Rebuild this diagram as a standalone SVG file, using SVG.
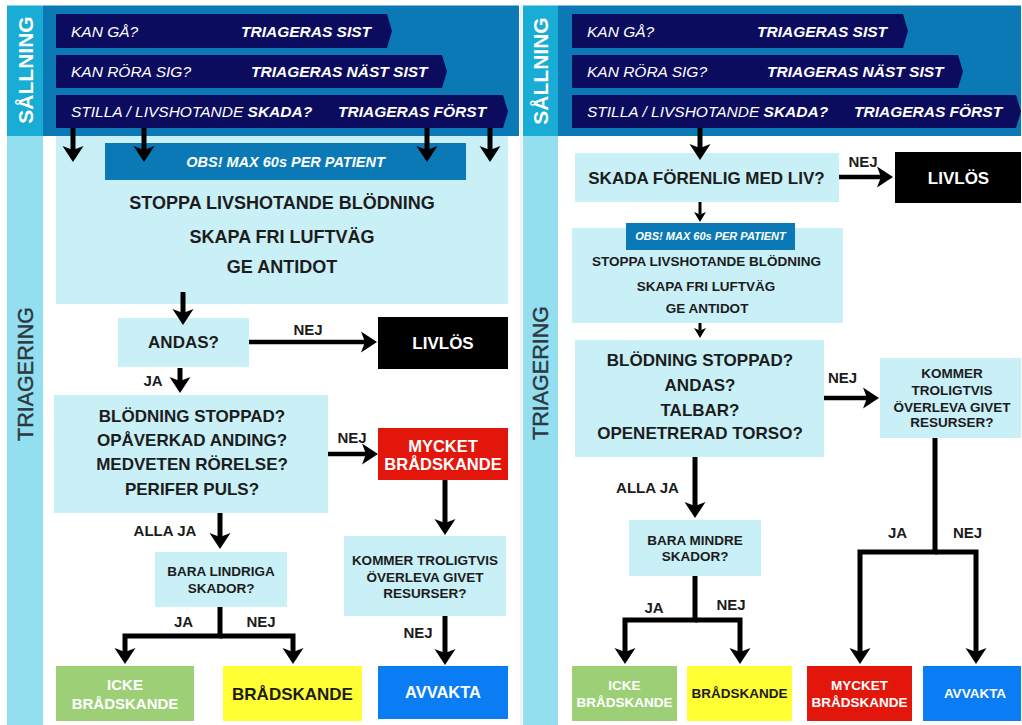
<svg xmlns="http://www.w3.org/2000/svg" width="1022" height="725" viewBox="0 0 1022 725">
  <defs>
    <style>
      text { font-family: "Liberation Sans", Arial, sans-serif; }
      .t { font-weight: bold; text-anchor: middle; fill: #1c1c1c; }
      .w { fill: #ffffff; }
      .f13 { font-size: 13.5px; }
      .f15 { font-size: 15px; }
      .f17 { font-size: 17px; }
      .f18 { font-size: 18px; }
      .ban { fill: #0c0c5e; }
      .bq { font-style: italic; fill: #ffffff; font-size: 15.5px; }
      .ba { font-style: italic; font-weight: bold; fill: #ffffff; font-size: 15.5px; }
      .obs { font-style: italic; font-weight: bold; fill: #ffffff; text-anchor: middle; }
      .hdr { fill: #0b79b6; }
      .side1 { fill: #19acd5; }
      .side2 { fill: #93dff0; }
      .q { fill: #c9eff7; }
      .ln { stroke: #000; stroke-width: 5; fill: none; stroke-linejoin: miter; marker-end: url(#ah); }
      .lnh { stroke: #000; stroke-width: 4.5; fill: none; marker-end: url(#ah); }
      .lns { stroke: #000; stroke-width: 3; fill: none; marker-end: url(#ahs); }
      .s1 { font-weight: bold; font-size: 21px; fill: #ffffff; text-anchor: middle; }
      .s2 { font-size: 21.5px; fill: #2c3740; text-anchor: middle; stroke: #2c3740; stroke-width: 0.4; }
    </style>
    <marker id="ah" markerUnits="userSpaceOnUse" markerWidth="18" markerHeight="22" refX="4" refY="11" orient="auto" overflow="visible">
      <path d="M0,0.5 L16,11 L0,21.5 L4,11 z" fill="#000"/>
    </marker>
    <marker id="ahs" markerUnits="userSpaceOnUse" markerWidth="11" markerHeight="12" refX="2.5" refY="6" orient="auto" overflow="visible">
      <path d="M0,0 L10,6 L0,12 L2.5,6 z" fill="#000"/>
    </marker>
  </defs>

  <rect x="0" y="0" width="1022" height="725" fill="#ffffff"/>

  <!-- ===== Left panel: background bands ===== -->
  <g id="left-frame">
    <rect class="side1" x="7" y="5.5" width="36" height="130.5"/>
    <rect class="hdr" x="43" y="5.5" width="476" height="130.5"/>
    <rect class="side2" x="7" y="136" width="36" height="589"/>
    <text class="s1" transform="translate(32.5,70) rotate(-90)">SÅLLNING</text>
    <text class="s2" transform="translate(32.7,374) rotate(-90)">TRIAGERING</text>
  </g>

  <!-- ===== Right panel: background bands ===== -->
  <g id="right-frame">
    <rect class="side1" x="523" y="5.5" width="35" height="130.5"/>
    <rect class="hdr" x="558" y="5.5" width="463" height="130.5"/>
    <rect class="side2" x="523" y="136" width="35" height="589"/>
    <text class="s1" transform="translate(548,71) rotate(-90)">SÅLLNING</text>
    <text class="s2" transform="translate(548.2,373) rotate(-90)">TRIAGERING</text>
  </g>
  <line x1="521" y1="5" x2="521" y2="725" stroke="#d6e6f0" stroke-width="1"/>

  <!-- ===== Sorting banners ===== -->
  <g id="left-sort">
    <polygon class="ban" points="56,14 387,14 392,31 387,48 56,48"/>
    <text class="bq" x="71" y="36.5">KAN GÅ?</text>
    <text class="ba" x="241" y="36.5">TRIAGERAS SIST</text>
    <polygon class="ban" points="56,55 442,55 447,71.5 442,88 56,88"/>
    <text class="bq" x="71" y="77">KAN RÖRA SIG?</text>
    <text class="ba" x="251" y="77">TRIAGERAS NÄST SIST</text>
    <polygon class="ban" points="56,95 503,95 508,111.5 503,128 56,128"/>
    <text class="bq" x="71" y="117">STILLA / LIVSHOTANDE <tspan font-weight="bold">SKADA?</tspan></text>
    <text class="ba" x="338" y="117">TRIAGERAS FÖRST</text>
  </g>
  <g id="right-sort">
    <polygon class="ban" points="572,14 903,14 908,31 903,48 572,48"/>
    <text class="bq" x="587" y="36.5">KAN GÅ?</text>
    <text class="ba" x="757" y="36.5">TRIAGERAS SIST</text>
    <polygon class="ban" points="572,55 958,55 963,71.5 958,88 572,88"/>
    <text class="bq" x="587" y="77">KAN RÖRA SIG?</text>
    <text class="ba" x="767" y="77">TRIAGERAS NÄST SIST</text>
    <polygon class="ban" points="572,95 1016,95 1021,111.5 1016,128 572,128"/>
    <text class="bq" x="587" y="117">STILLA / LIVSHOTANDE <tspan font-weight="bold">SKADA?</tspan></text>
    <text class="ba" x="854" y="117">TRIAGERAS FÖRST</text>
  </g>

  <!-- ===== Left panel nodes ===== -->
  <g id="l-action">
    <rect class="q" x="56" y="136" width="452" height="168"/>
    <rect class="hdr" x="105" y="143" width="361" height="37"/>
    <text class="obs" x="285.5" y="166.5" font-size="14.5">OBS! MAX 60s PER PATIENT</text>
    <text class="t f18" x="282" y="209">STOPPA LIVSHOTANDE BLÖDNING</text>
    <text class="t f18" x="282" y="243">SKAPA FRI LUFTVÄG</text>
    <text class="t f18" x="282" y="273">GE ANTIDOT</text>
  </g>
  <g id="l-andas">
    <rect class="q" x="118" y="318" width="131" height="49"/>
    <text class="t f17" x="183.5" y="348">ANDAS?</text>
  </g>
  <g id="l-livlos">
    <rect x="378" y="317" width="130" height="52" fill="#000"/>
    <text class="t w f17" x="443" y="349">LIVLÖS</text>
  </g>
  <g id="l-check">
    <rect class="q" x="54" y="395" width="274" height="118"/>
    <text class="t f17" x="192" y="421.5">BLÖDNING STOPPAD?</text>
    <text class="t f17" x="192" y="445.5">OPÅVERKAD ANDING?</text>
    <text class="t f17" x="192" y="470">MEDVETEN RÖRELSE?</text>
    <text class="t f17" x="192" y="494.5">PERIFER PULS?</text>
  </g>
  <g id="l-mycket">
    <rect x="378" y="428" width="130" height="52" fill="#e3160c"/>
    <text class="t w" x="443" y="451.5" font-size="16.5">MYCKET</text>
    <text class="t w" x="443" y="470" font-size="16.5">BRÅDSKANDE</text>
  </g>
  <g id="l-overleva">
    <rect class="q" x="344" y="536" width="162" height="80"/>
    <text class="t f13" x="425" y="565">KOMMER TROLIGTVIS</text>
    <text class="t f13" x="425" y="581.5">ÖVERLEVA GIVET</text>
    <text class="t f13" x="425" y="598">RESURSER?</text>
  </g>
  <g id="l-lindriga">
    <rect class="q" x="155" y="552" width="132" height="55"/>
    <text class="t f13" x="221" y="576">BARA LINDRIGA</text>
    <text class="t f13" x="221" y="592.5">SKADOR?</text>
  </g>
  <g id="l-icke">
    <rect x="56" y="666" width="138" height="55" fill="#9dcf77"/>
    <text class="t w f15" x="125" y="690">ICKE</text>
    <text class="t w f15" x="125" y="709">BRÅDSKANDE</text>
  </g>
  <g id="l-bradskande">
    <rect x="223" y="666" width="139" height="55" fill="#ffff33"/>
    <text class="t f17" x="292.5" y="700">BRÅDSKANDE</text>
  </g>
  <g id="l-avvakta">
    <rect x="378" y="666" width="130" height="53" fill="#0a7cf4"/>
    <text class="t w" x="443" y="698" font-size="16.5">AVVAKTA</text>
  </g>

  <!-- ===== Right panel nodes ===== -->
  <g id="r-forenlig">
    <rect class="q" x="575" y="153" width="264" height="49"/>
    <text class="t f17" x="706.5" y="184">SKADA FÖRENLIG MED LIV?</text>
  </g>
  <g id="r-livlos">
    <rect x="895" y="152" width="126" height="51" fill="#000"/>
    <text class="t w f17" x="958.5" y="183.5">LIVLÖS</text>
  </g>
  <g id="r-action">
    <rect class="q" x="572" y="228" width="271" height="95"/>
    <rect class="hdr" x="626" y="223" width="169" height="27"/>
    <text class="obs" x="710.5" y="240" font-size="11">OBS! MAX 60s PER PATIENT</text>
    <text class="t f13" x="706.5" y="266">STOPPA LIVSHOTANDE BLÖDNING</text>
    <text class="t f13" x="706" y="291">SKAPA FRI LUFTVÄG</text>
    <text class="t f13" x="707" y="312.5">GE ANTIDOT</text>
  </g>
  <g id="r-check">
    <rect class="q" x="575" y="340" width="249" height="117"/>
    <text class="t f17" x="700" y="366">BLÖDNING STOPPAD?</text>
    <text class="t f17" x="700" y="390.5">ANDAS?</text>
    <text class="t f17" x="700" y="415.5">TALBAR?</text>
    <text class="t f17" x="700" y="439">OPENETRERAD TORSO?</text>
  </g>
  <g id="r-overleva">
    <rect class="q" x="880" y="358" width="141" height="80"/>
    <text class="t f13" x="952" y="378">KOMMER</text>
    <text class="t f13" x="952" y="395">TROLIGTVIS</text>
    <text class="t f13" x="952" y="411.5">ÖVERLEVA GIVET</text>
    <text class="t f13" x="952" y="427">RESURSER?</text>
  </g>
  <g id="r-mindre">
    <rect class="q" x="629" y="520" width="132" height="56"/>
    <text class="t f13" x="695" y="545">BARA MINDRE</text>
    <text class="t f13" x="695" y="561">SKADOR?</text>
  </g>
  <g id="r-icke">
    <rect x="572" y="666" width="105" height="55" fill="#9dcf77"/>
    <text class="t w f13" x="624.5" y="690">ICKE</text>
    <text class="t w f13" x="624.5" y="706.5">BRÅDSKANDE</text>
  </g>
  <g id="r-bradskande">
    <rect x="687" y="666" width="105" height="55" fill="#ffff33"/>
    <text class="t f13" x="739.5" y="698">BRÅDSKANDE</text>
  </g>
  <g id="r-mycket">
    <rect x="807" y="666" width="105" height="55" fill="#e3160c"/>
    <text class="t w f13" x="859.5" y="690">MYCKET</text>
    <text class="t w f13" x="859.5" y="706.5">BRÅDSKANDE</text>
  </g>
  <g id="r-avvakta">
    <rect x="923" y="666" width="98" height="55" fill="#0a7cf4"/>
    <text class="t w f13" x="975" y="698">AVVAKTA</text>
  </g>

  <!-- ===== Connectors ===== -->
  <g id="connectors">
    <!-- left: sorting into triage -->
    <line class="ln" x1="73" y1="128" x2="73" y2="150"/>
    <line class="ln" x1="144" y1="128" x2="144" y2="150"/>
    <line class="ln" x1="427" y1="128" x2="427" y2="150"/>
    <line class="ln" x1="490" y1="128" x2="490" y2="150"/>
    <!-- left flow -->
    <line class="ln" x1="183" y1="292" x2="183" y2="313"/>
    <line class="lnh" x1="249" y1="342" x2="365" y2="342"/>
    <line class="ln" x1="180" y1="368" x2="180" y2="381"/>
    <line class="lnh" x1="328" y1="454" x2="366" y2="454"/>
    <line class="ln" x1="445" y1="480" x2="445" y2="523"/>
    <line class="ln" x1="445" y1="616" x2="445" y2="653"/>
    <line class="ln" x1="220" y1="513" x2="220" y2="537"/>
    <path class="ln" d="M220,607 V636 H125 V652"/>
    <path class="ln" d="M220,636 H293 V652"/>

    <!-- right flow -->
    <line class="ln" x1="700" y1="128" x2="700" y2="148"/>
    <line class="lnh" x1="839" y1="177" x2="881" y2="177"/>
    <line class="lns" x1="700" y1="202" x2="700" y2="214.5"/>
    <line class="lns" x1="700" y1="323" x2="700" y2="330.5"/>
    <line class="lnh" x1="824" y1="398" x2="867" y2="398"/>
    <line class="ln" x1="695" y1="457" x2="695" y2="506"/>
    <path class="ln" d="M695,576 V620 H625 V652"/>
    <path class="ln" d="M695,620 H740 V652"/>
    <path class="ln" d="M935,438 V552 H860 V652"/>
    <path class="ln" d="M935,552 H976 V652"/>

    <!-- connector labels -->
    <text class="t f15" x="308" y="335">NEJ</text>
    <text class="t f15" x="153" y="386">JA</text>
    <text class="t f15" x="352" y="443">NEJ</text>
    <text class="t f15" x="165" y="536">ALLA JA</text>
    <text class="t f15" x="418" y="638">NEJ</text>
    <text class="t f15" x="183.5" y="626.5">JA</text>
    <text class="t f15" x="261" y="626.5">NEJ</text>

    <text class="t f15" x="863" y="166.5">NEJ</text>
    <text class="t f15" x="842.5" y="383">NEJ</text>
    <text class="t f15" x="647.5" y="492.5">ALLA JA</text>
    <text class="t f15" x="654" y="612.5">JA</text>
    <text class="t f15" x="731" y="610">NEJ</text>
    <text class="t f15" x="897.5" y="538">JA</text>
    <text class="t f15" x="967.5" y="538">NEJ</text>
  </g>
</svg>
